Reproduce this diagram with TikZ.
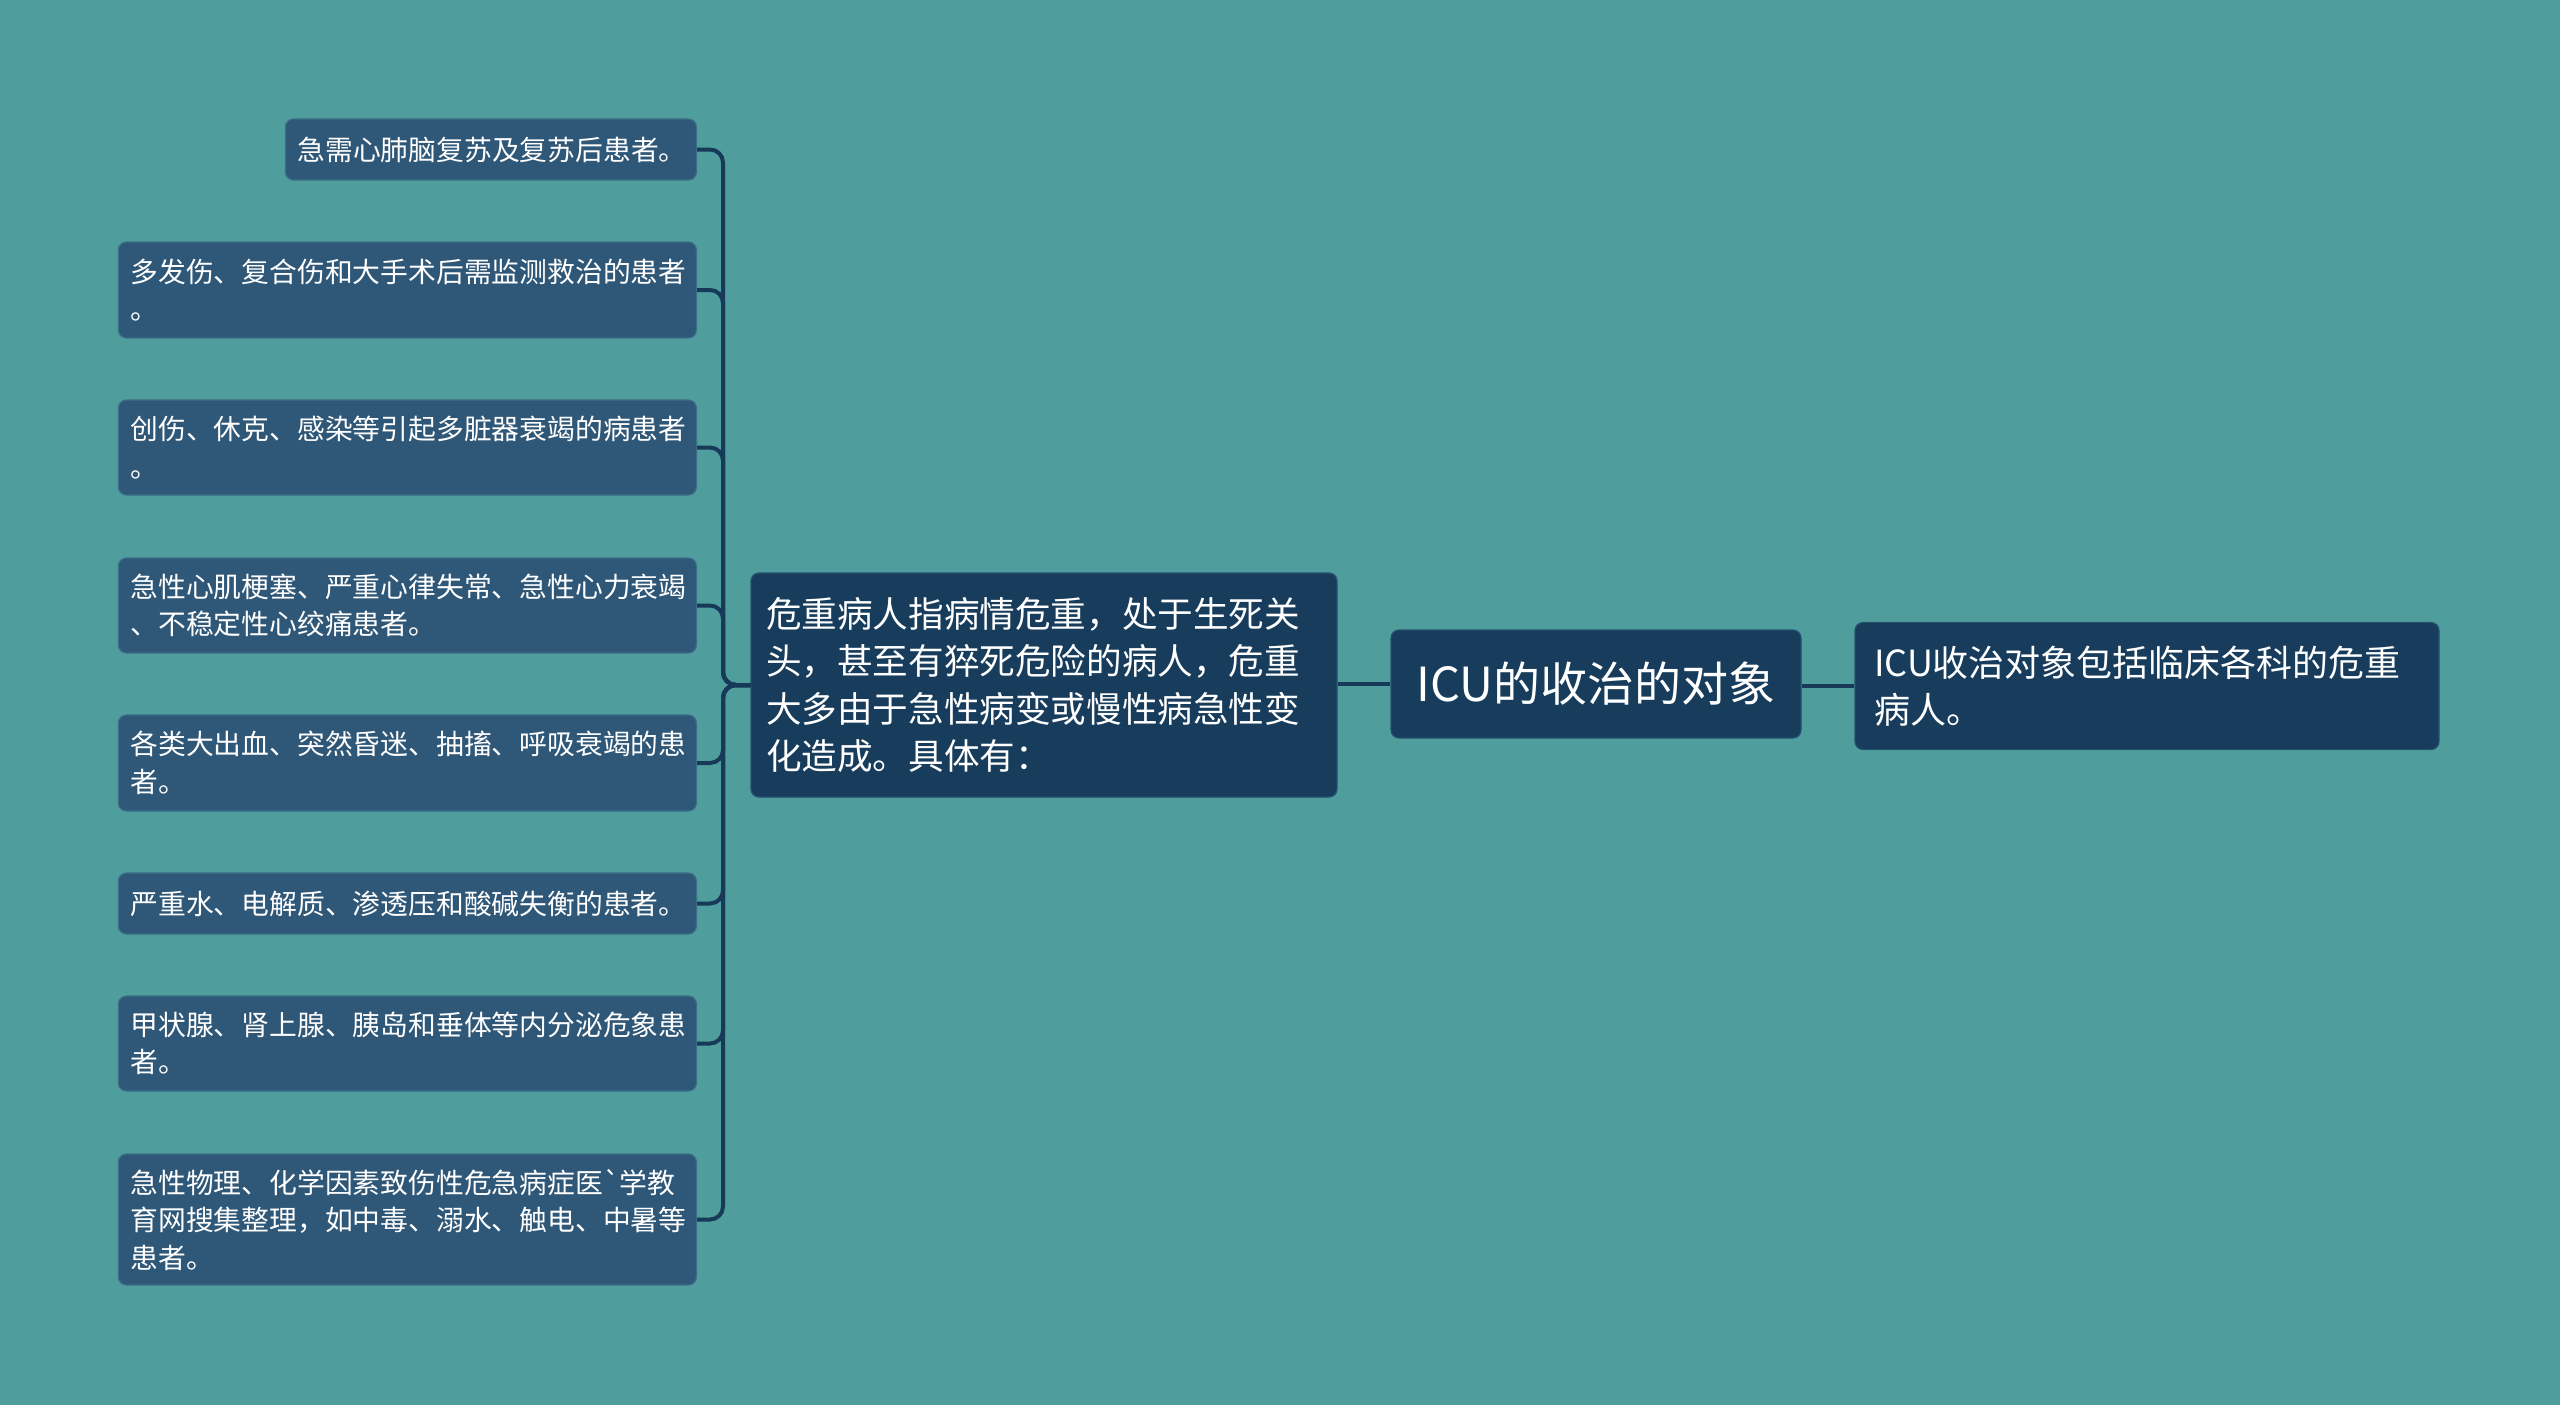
\documentclass[tikz,border=0pt]{standalone}
\usepackage{fontspec}
\newfontfamily\cjk{Noto Sans CJK SC}
\definecolor{bgc}{HTML}{4F9E9D}
\definecolor{leaffill}{HTML}{2F5777}
\definecolor{leafdraw}{HTML}{3B6F85}
\definecolor{mainfill}{HTML}{173C5C}
\definecolor{maindraw}{HTML}{24506E}
\definecolor{linec}{HTML}{173A58}
\tikzset{
  leaf/.style={rectangle, rounded corners=8pt, fill=leaffill, draw=leafdraw, line width=1.2pt,
    text=white, text width=554pt, inner xsep=12pt, inner ysep=0pt, align=left, anchor=east,
    font=\cjk\fontsize{27.8pt}{37.5pt}\selectfont},
  mainbox/.style={rectangle, rounded corners=8pt, fill=mainfill, draw=maindraw, line width=1.2pt,
    text=white, inner ysep=0pt},
  conn/.style={draw=linec, line width=4pt, rounded corners=13pt}
}
\begin{document}
\begin{tikzpicture}[x=1pt,y=-1pt]
\fill[bgc] (0,0) rectangle (2560,1405);
\useasboundingbox (0,0) rectangle (2560,1405);

\node[leaf, text width=387pt, minimum height=61pt] (A) at (697,149.5) {急需心肺脑复苏及复苏后患者。};
\node[leaf, minimum height=96pt] (B) at (697,290) {多发伤、复合伤和大手术后需监测救治的患者\\。};
\node[leaf, minimum height=95pt] (C) at (697,447.5) {创伤、休克、感染等引起多脏器衰竭的病患者\\。};
\node[leaf, minimum height=95pt] (D) at (697,605.5) {急性心肌梗塞、严重心律失常、急性心力衰竭\\、不稳定性心绞痛患者。};
\node[leaf, minimum height=96pt] (E) at (697,763) {各类大出血、突然昏迷、抽搐、呼吸衰竭的患\\者。};
\node[leaf, minimum height=61pt] (F) at (697,903.5) {严重水、电解质、渗透压和酸碱失衡的患者。};
\node[leaf, minimum height=95pt] (G) at (697,1043.5) {甲状腺、肾上腺、胰岛和垂体等内分泌危象患\\者。};
\node[leaf, minimum height=131pt] (H) at (697,1219.5) {急性物理、化学因素致伤性危急病症医\symbol{96}学教\\育网搜集整理，如中毒、溺水、触电、中暑等\\患者。};

\node[mainbox, minimum width=586pt, minimum height=224pt, text width=556pt, inner xsep=15pt, align=left,
  font=\cjk\fontsize{35.6pt}{47.3pt}\selectfont] (M) at (1044,685)
  {危重病人指病情危重，处于生死关\\头，甚至有猝死危险的病人，危重\\大多由于急性病变或慢性病急性变\\化造成。具体有：};

\node[mainbox, minimum width=410pt, minimum height=108pt, align=center,
  font=\cjk\fontsize{47pt}{54pt}\selectfont] (R) at (1596,684) {ICU的收治的对象};

\node[mainbox, minimum width=584pt, minimum height=127pt, text width=546pt, inner xsep=19pt, align=left,
  font=\cjk\fontsize{36pt}{47pt}\selectfont] (S) at (2147,686)
  {ICU收治对象包括临床各科的危重\\病人。};

\coordinate (bus) at (723,685);
\foreach \n in {A,B,C,D,E,F,G,H}{
  \draw[conn] (M.west) -- (bus) |- (\n.east);
}
\draw[conn, rounded corners=0pt] (R.west) -- (R.west -| M.east);
\draw[conn, rounded corners=0pt] (S.west) -- (S.west -| R.east);
\end{tikzpicture}
\end{document}
